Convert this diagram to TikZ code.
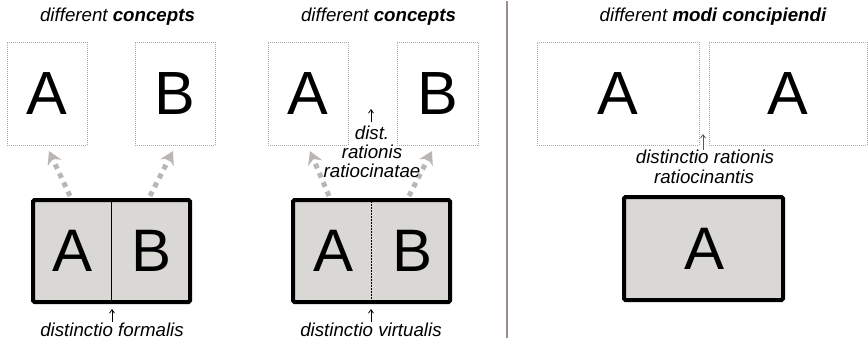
\documentclass[tikz,border=0pt]{standalone}
\usepackage{fontspec}
\setmainfont{Liberation Sans}
\usetikzlibrary{arrows.meta}
\definecolor{boxfill}{HTML}{D9D8D4}
\definecolor{arrgray}{HTML}{BAB6B3}
\definecolor{dotgray}{HTML}{A8A8A8}
\definecolor{sepcol}{HTML}{9C8B95}
\tikzset{
  concept/.style={draw=dotgray, line width=0.8pt, dash pattern=on 1pt off 1pt, inner sep=0pt, minimum height=103pt, font=\fontsize{61}{62}\selectfont},
  thing/.style={draw=black, fill=boxfill, line width=4pt, rounded corners=1.5pt, inner sep=0pt, minimum width=157pt, minimum height=102pt},
  bigletter/.style={inner sep=0pt, font=\fontsize{60}{61}\selectfont},
  lbl/.style={inner sep=0pt, anchor=base, font=\fontsize{18.7}{22}\selectfont\itshape},
  garrow/.style={draw=arrgray, line width=5pt, dash pattern=on 5pt off 5pt, -{Stealth[length=13pt,width=15pt]}},
  smallarrow/.style={draw=black, line width=0.8pt, -{Straight Barb[length=3.5pt,width=5pt]}},
}
\begin{document}
\begin{tikzpicture}[x=1pt,y=-1pt]
\useasboundingbox (0,0) rectangle (868,346);
% ---------- panel 1 ----------
\node[lbl] (t1) at (117.5,21) {different \textbf{concepts}};
\node[concept, minimum width=80pt] (c1a) at (47,93.5) {A};
\node[concept, minimum width=80pt] (c1b) at (175,93.5) {B};
\node[thing] (f1) at (111.5,251) {};
\draw[line width=1.5pt] (f1.north) -- (f1.south);
\node[bigletter] (f1a) at (73,251) {A};
\node[bigletter] (f1b) at (152,251) {B};
\coordinate (a1s) at (70,196); \coordinate (a1e) at (49,151);
\coordinate (b1s) at (150,196); \coordinate (b1e) at (173,151);
\draw[garrow] (a1s) -- (a1e);
\draw[garrow] (b1s) -- (b1e);
\node[lbl] (l1) at (112,336) {distinctio formalis};
\coordinate (l1t) at (112,309);
\draw[smallarrow] (112,322) -- (l1t);
% ---------- panel 2 ----------
\node[lbl] (t2) at (378.5,21) {different \textbf{concepts}};
\node[concept, minimum width=80pt] (c2a) at (308,93.5) {A};
\node[concept, minimum width=81pt] (c2b) at (437.5,93.5) {B};
\node[thing] (f2) at (371.5,251) {};
\draw[line width=1.5pt, dash pattern=on 1.5pt off 1.5pt] (f2.north) -- (f2.south);
\node[bigletter] (f2a) at (334,251) {A};
\node[bigletter] (f2b) at (413,251) {B};
\coordinate (a2s) at (329,196); \coordinate (a2e) at (310,151);
\coordinate (b2s) at (409,196); \coordinate (b2e) at (432,151);
\draw[garrow] (a2s) -- (a2e);
\draw[garrow] (b2s) -- (b2e);
\node[lbl] (m2a) at (372,139) {dist.};
\node[lbl] (m2b) at (372,158) {rationis};
\node[lbl] (m2c) at (372,177) {ratiocinatae};
\coordinate (m2t) at (371,109);
\draw[smallarrow] (371,122) -- (m2t);
\node[lbl] (l2) at (371,336) {distinctio virtualis};
\coordinate (l2t) at (371,309);
\draw[smallarrow] (371,322) -- (l2t);
% ---------- separator ----------
\coordinate (sep1) at (507,1); \coordinate (sep2) at (507,338);
\draw[sepcol, line width=1.5pt] (sep1) -- (sep2);
% ---------- panel 3 ----------
\node[lbl] (t3) at (713,21) {different \textbf{modi concipiendi}};
\node[concept, minimum width=162pt] (c3a) at (618,93.5) {A};
\node[concept, minimum width=158pt] (c3b) at (788,93.5) {A};
\node[thing, minimum width=159pt, minimum height=103pt] (f3) at (703.5,248.5) {};
\node[bigletter] (f3a) at (705,249) {A};
\node[lbl] (m3a) at (705,163) {distinctio rationis};
\node[lbl] (m3b) at (704,183) {ratiocinantis};
\coordinate (m3t) at (703,134);
\draw[smallarrow, draw=black!65] (703,150) -- (m3t);
\end{tikzpicture}
\end{document}
